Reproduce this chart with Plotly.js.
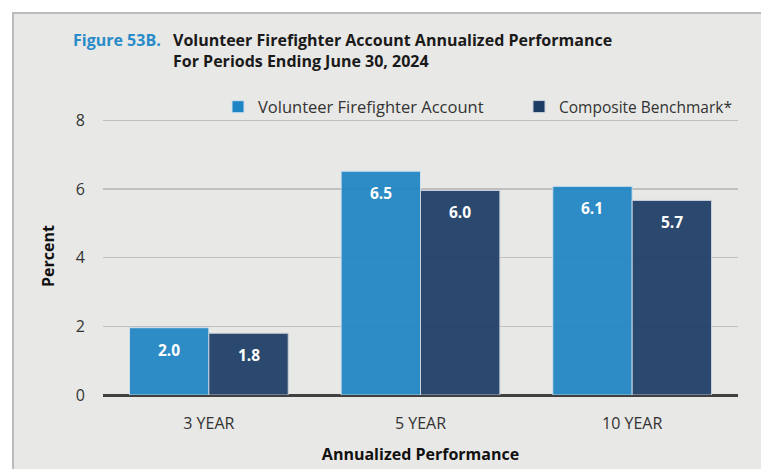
<!DOCTYPE html>
<html>
<head>
<meta charset="utf-8">
<script src="https://cdn.plot.ly/plotly-3.0.1.min.js"></script>
<style>html,body{margin:0;padding:0;background:#fff;}#chart{width:761px;height:469px;}</style>
</head>
<body>
<div id="chart"></div>
<script>
const categories = ["3 YEAR", "5 YEAR", "10 YEAR"];
const seriesNames = ["Volunteer Firefighter Account", "Composite Benchmark*"];
const account = [1.96, 6.52, 6.08];
const benchmark = [1.80, 5.96, 5.67];
const yTicks = [0, 2, 4, 6, 8];
const titleLabel = "Figure 53B.";
const titleLines = ["Volunteer Firefighter Account Annualized Performance", "For Periods Ending June 30, 2024"];
const xTitle = "Annualized Performance";
const yTitle = "Percent";

const W = 761, H = 469;
const M = {l: 103, r: 23, t: 117, b: 74};
const PW = W - M.l - M.r, PH = H - M.t - M.b;
const px = x => (x - M.l) / PW;
const py = y => (H - M.b - y) / PH;

const FONT = "'Open Sans', sans-serif";
const blue = "#1e84c3";
const navy = "#1c3c64";

const traces = [
  {type: "bar", x: categories, y: account, name: seriesNames[0], legend: "legend",
   marker: {color: blue, opacity: 0.92, line: {color: "#cfe0ee", width: 1}}, hoverinfo: "skip"},
  {type: "bar", x: categories, y: benchmark, name: seriesNames[1], legend: "legend2",
   marker: {color: navy, opacity: 0.92, line: {color: "#c8d0dc", width: 1}}, hoverinfo: "skip"}
];

const annotations = [];
const barOff = PW / 3 * 0.75 / 4;
[account, benchmark].forEach((vals, s) => {
  vals.forEach((v, i) => {
    annotations.push({xref: "x", yref: "y", x: categories[i], y: v, xshift: (s === 0 ? -1 : 1) * barOff,
      yshift: -22, yanchor: "middle", xanchor: "center", showarrow: false,
      text: "<b>" + v.toFixed(1) + "</b>", font: {family: FONT, size: 15.5, color: "#ffffff"}});
  });
});
annotations.push({xref: "paper", yref: "paper", x: px(71), y: py(40), xanchor: "left", yanchor: "middle",
  showarrow: false, text: "<b>" + titleLabel + "</b>", font: {family: FONT, size: 16, color: "#2a8bc9"}});
annotations.push({xref: "paper", yref: "paper", x: px(171), y: py(40), xanchor: "left", yanchor: "middle",
  showarrow: false, text: "<b>" + titleLines[0] + "</b>", font: {family: FONT, size: 16, color: "#1a1a1a"}});
annotations.push({xref: "paper", yref: "paper", x: px(171), y: py(61), xanchor: "left", yanchor: "middle",
  showarrow: false, text: "<b>" + titleLines[1] + "</b>", font: {family: FONT, size: 16, color: "#1a1a1a"}});

const legendBase = {orientation: "h", yanchor: "middle", xanchor: "left",
  font: {family: FONT, size: 16.5, color: "#333333"}, bgcolor: "rgba(0,0,0,0)", itemwidth: 30};

const layout = {
  width: W, height: H,
  margin: M,
  paper_bgcolor: "#ffffff",
  plot_bgcolor: "rgba(0,0,0,0)",
  barmode: "group", bargap: 0.25, bargroupgap: 0,
  showlegend: true,
  legend: Object.assign({}, legendBase, {x: px(218), y: py(107)}),
  legend2: Object.assign({}, legendBase, {x: px(519), y: py(107),
    font: {family: FONT, size: 15.5, color: "#333333"}}),
  xaxis: {type: "category", showgrid: false, zeroline: false, showline: false,
    ticks: "outside", ticklen: 14, tickcolor: "rgba(0,0,0,0)",
    tickfont: {family: FONT, size: 16, color: "#333333"},
    title: {text: "<b>" + xTitle + "</b>", font: {family: FONT, size: 16, color: "#111111"}, standoff: 15}},
  yaxis: {range: [0, 8.1], tickvals: yTicks, showgrid: true, gridcolor: "#c0c0c0", gridwidth: 1.5,
    zeroline: true, zerolinecolor: "#404040", zerolinewidth: 3, showline: false,
    ticks: "outside", ticklen: 14, tickcolor: "rgba(0,0,0,0)",
    tickfont: {family: FONT, size: 16, color: "#333333"},
    title: {text: "<b>" + yTitle + "</b>", font: {family: FONT, size: 16, color: "#111111"}, standoff: 17}},
  shapes: [{type: "rect", xref: "paper", yref: "paper", layer: "below",
    x0: px(13), x1: px(W + 10), y0: py(H + 10), y1: py(13),
    fillcolor: "#e8e8e6", line: {color: "#bcbcbc", width: 2}}],
  annotations: annotations
};

Plotly.newPlot("chart", traces, layout, {displayModeBar: false, staticPlot: true});
</script>
</body>
</html>
